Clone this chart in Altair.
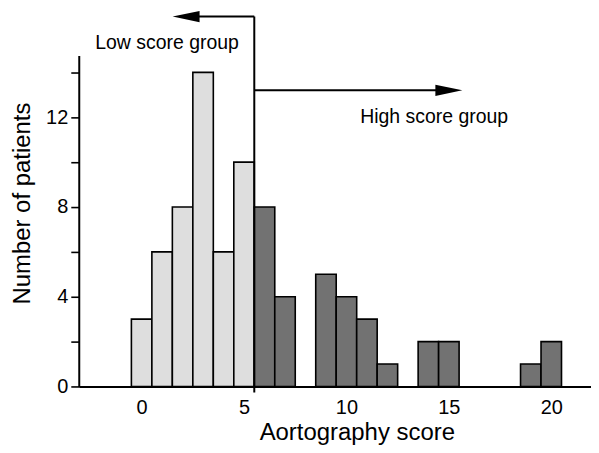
import altair as alt
import pandas as pd

# ---- data ----
scores = list(range(0, 21))
counts = [3, 6, 8, 14, 6, 10, 8, 4, 0, 5, 4, 3, 1, 0, 2, 2, 0, 0, 0, 1, 2]
cutoff = 5.5
group_labels = ["Low score group", "High score group"]
group_colors = ["#dedede", "#727272"]
x_tick_values = [0, 5, 10, 15, 20]
y_tick_values = [0, 2, 4, 6, 8, 10, 12, 14]

# annotation positions (data units)
divider_bottom, divider_top = -0.27, 16.49
low_arrow_y, low_arrow_head_x = 16.49, 2.17
high_arrow_y, high_arrow_head_x = 13.2, 15.0
low_text_x, low_text_y = 1.24, 15.05
high_text_x, high_text_y = 14.28, 11.73

FONT = "Liberation Sans"

df = pd.DataFrame({"score": scores, "count": counts})
df = df[df["count"] > 0].copy()
df["lo"] = df["score"] - 0.5
df["hi"] = df["score"] + 0.5
df["base"] = 0
df["group"] = [group_labels[0] if s < cutoff else group_labels[1] for s in df["score"]]

xscale = alt.Scale(domain=[-3.07, 21.94], nice=False, zero=False)
yscale = alt.Scale(domain=[0, 14.75], nice=False, zero=False)

x_axis = alt.Axis(
    values=x_tick_values,
    ticks=False,
    grid=False,
    domainColor="black",
    domainWidth=2,
    labelFont=FONT,
    labelFontSize=20,
    labelColor="black",
    labelPadding=11,
    title="Aortography score",
    titleFont=FONT,
    titleFontSize=24,
    titleFontWeight="normal",
    titleColor="black",
    titleX=279,
    titleY=53,
    titleAlign="center",
    titleBaseline="alphabetic",
)

y_axis = alt.Axis(
    values=y_tick_values,
    labelExpr="datum.value % 4 === 0 ? datum.label : ''",
    grid=False,
    tickSize=8,
    tickWidth=1.6,
    tickColor="black",
    domainColor="black",
    domainWidth=2,
    labelFont=FONT,
    labelFontSize=20,
    labelColor="black",
    labelPadding=3,
    title="Number of patients",
    titleFont=FONT,
    titleFontSize=24,
    titleFontWeight="normal",
    titleColor="black",
    titleAngle=270,
    titleX=-49,
    titleY=148,
    titleAlign="center",
    titleBaseline="alphabetic",
)


def X(field):
    return alt.X(field, scale=xscale, axis=x_axis)


def Y(field):
    return alt.Y(field, scale=yscale, axis=y_axis, stack=None)


bars = alt.Chart(df).mark_bar(stroke="black", strokeWidth=1.6, opacity=1).encode(
    x=X("lo:Q"),
    x2="hi:Q",
    y=Y("count:Q"),
    y2="base:Q",
    fill=alt.Fill(
        "group:N",
        scale=alt.Scale(domain=group_labels, range=group_colors),
        legend=None,
    ),
)

divider = alt.Chart(
    pd.DataFrame({"x": [cutoff], "y": [divider_bottom], "y2": [divider_top]})
).mark_rule(color="black", strokeWidth=2).encode(
    x=X("x:Q"),
    y=Y("y:Q"),
    y2="y2:Q",
)

arrow_lines = alt.Chart(
    pd.DataFrame(
        {
            "x": [cutoff, cutoff],
            "x2": [low_arrow_head_x, high_arrow_head_x],
            "y": [low_arrow_y, high_arrow_y],
        }
    )
).mark_rule(color="black", strokeWidth=2).encode(
    x=X("x:Q"),
    x2="x2:Q",
    y=Y("y:Q"),
)

left_head = alt.Chart(
    pd.DataFrame({"x": [low_arrow_head_x], "y": [low_arrow_y]})
).mark_point(
    shape="M -1 0 L 1 -0.42 L 1 0.42 Z", filled=True, color="black", size=729, opacity=1
).encode(
    x=X("x:Q"),
    y=Y("y:Q"),
)

right_head = alt.Chart(
    pd.DataFrame({"x": [high_arrow_head_x], "y": [high_arrow_y]})
).mark_point(
    shape="M 1 0 L -1 -0.42 L -1 0.42 Z", filled=True, color="black", size=729, opacity=1
).encode(
    x=X("x:Q"),
    y=Y("y:Q"),
)

labels = alt.Chart(
    pd.DataFrame(
        {
            "x": [low_text_x, high_text_x],
            "y": [low_text_y, high_text_y],
            "t": group_labels,
        }
    )
).mark_text(
    font=FONT, fontSize=19.5, align="center", baseline="alphabetic", color="black"
).encode(
    x=X("x:Q"),
    y=Y("y:Q"),
    text="t:N",
)

chart = (
    alt.layer(bars, divider, arrow_lines, left_head, right_head, labels)
    .properties(
        width=514,
        height=332,
        padding={"left": 71, "top": 47, "right": 0, "bottom": 58},
        autosize=alt.AutoSizeParams(type="none"),
        background="white",
    )
    .configure_view(stroke=None)
)

chart.save("out.html", embed_options={"renderer": "svg", "actions": False})
